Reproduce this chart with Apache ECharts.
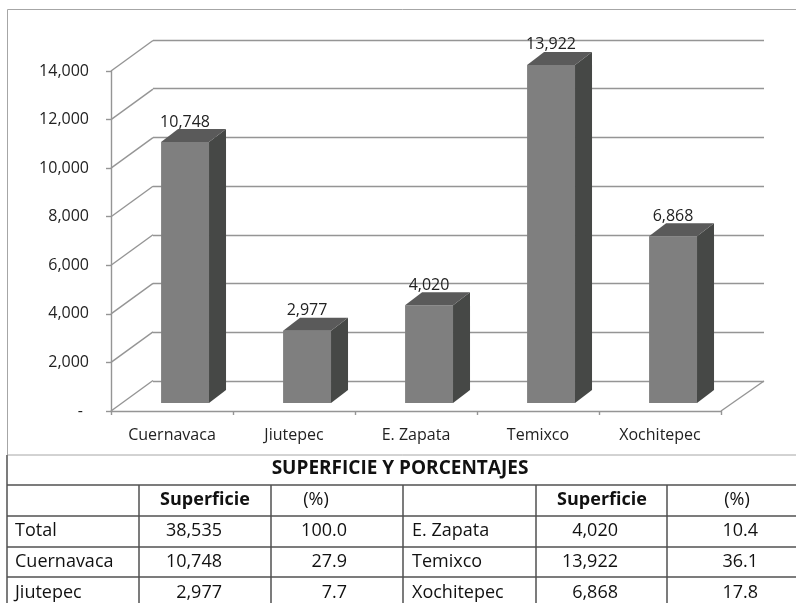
<!DOCTYPE html>
<html><head><meta charset="utf-8">
<script src="https://cdn.jsdelivr.net/npm/echarts@6/dist/echarts.min.js"></script>
<style>html,body{margin:0;padding:0;background:#fff}#c{width:796px;height:603px}</style>
</head><body><div id="c"></div>
<script>
// ---- data ----
const categories = ['Cuernavaca', 'Jiutepec', 'E. Zapata', 'Temixco', 'Xochitepec'];
const superficie = [10748, 2977, 4020, 13922, 6868];
const yTicks = [0, 2000, 4000, 6000, 8000, 10000, 12000, 14000];
const tableTitle = 'SUPERFICIE Y PORCENTAJES';
const tableHeaders = ['Superficie', '(%)'];
const tableLeftNames = ['Total', 'Cuernavaca', 'Jiutepec'];
const tableLeftSup = [38535, 10748, 2977];
const tableLeftPct = ['100.0', '27.9', '7.7'];
const tableRightNames = ['E. Zapata', 'Temixco', 'Xochitepec'];
const tableRightSup = [4020, 13922, 6868];
const tableRightPct = ['10.4', '36.1', '17.8'];

const fmt = n => n.toLocaleString('en-US');
const FONT = '"Open Sans", "Noto Sans", sans-serif';
const GRID = '#959595';
const TXT = '#222222';

const chart = echarts.init(document.getElementById('c'), null, {renderer: 'canvas'});

// ---- table graphics ----
const colsX = [7, 139, 271, 403, 536, 667];
const rowMid = [469, 500, 531, 562, 593];
const tg = [];
const L = (x1, y1, x2, y2) => tg.push({type: 'line', shape: {x1, y1, x2, y2}, style: {stroke: '#505050', lineWidth: 1.5}, z: 10});
L(7, 455, 7, 603);
[485, 516, 547, 577].forEach(y => L(7, y, 796, y));
colsX.slice(1).forEach(x => L(x, 485, x, 603));
const T = (text, x, y, align, bold, size) => tg.push({type: 'text', x, y, z: 11, style: {text, fontFamily: FONT, fontSize: size || 18, fontWeight: bold ? 'bold' : 'normal', fill: '#111111', align, verticalAlign: 'middle'}});
T(tableTitle, 400, rowMid[0], 'center', true, 19);
T(tableHeaders[0], 205, rowMid[1], 'center', true);
T(tableHeaders[1], 316, rowMid[1], 'center', false);
T(tableHeaders[0], 602, rowMid[1], 'center', true);
T(tableHeaders[1], 737, rowMid[1], 'center', false);
for (let i = 0; i < 3; i++) {
  T(tableLeftNames[i], 15, rowMid[i + 2], 'left');
  T(fmt(tableLeftSup[i]), 222, rowMid[i + 2], 'right');
  T(tableLeftPct[i], 347, rowMid[i + 2], 'right');
  T(tableRightNames[i], 412, rowMid[i + 2], 'left');
  T(fmt(tableRightSup[i]), 618, rowMid[i + 2], 'right');
  T(tableRightPct[i], 758, rowMid[i + 2], 'right');
}
tg.push({type: 'rect', shape: {x: 7.5, y: 9.5, width: 800, height: 445.5}, style: {fill: 'none', stroke: '#a6a6a6', lineWidth: 1}, z: 0});

const option = {
  animation: false,
  backgroundColor: '#fff',
  grid: [
    {left: 111, top: 71, width: 610, height: 340},
    {left: 153, top: 40, width: 611, height: 341}
  ],
  xAxis: [
    {type: 'category', gridIndex: 0, data: categories, boundaryGap: true,
     axisLine: {lineStyle: {color: GRID, width: 1.4}},
     axisTick: {show: true, length: 4, alignWithLabel: false, lineStyle: {color: GRID, width: 1.4}},
     axisLabel: {margin: 16, color: TXT, fontSize: 16, fontFamily: FONT},
     splitLine: {show: false}},
    {type: 'category', gridIndex: 1, data: categories, show: false}
  ],
  yAxis: [
    {type: 'value', gridIndex: 0, min: 0, max: 14000, interval: 2000,
     axisLine: {show: true, lineStyle: {color: GRID, width: 1.4}},
     axisTick: {show: true, length: 5, lineStyle: {color: GRID, width: 1.4}},
     axisLabel: {margin: 22, color: TXT, fontSize: 16, fontFamily: FONT,
       formatter: v => v === 0 ? '{d|-}' : fmt(v),
       rich: {d: {fontSize: 16, fontFamily: FONT, color: TXT, padding: [0, 6, 0, 0]}}},
     splitLine: {show: false}},
    {type: 'value', gridIndex: 1, min: 0, max: 14000, interval: 2000,
     axisLine: {show: false}, axisTick: {show: false}, axisLabel: {show: false},
     splitLine: {show: true, lineStyle: {color: GRID, width: 1.4}}}
  ],
  series: [
    { // left wall diagonals
      type: 'custom', xAxisIndex: 0, yAxisIndex: 0, silent: true, z: 1,
      data: yTicks.map(v => [0, v]),
      renderItem(params, api) {
        const cs = params.coordSys;
        const y = api.coord([0, api.value(1)])[1];
        return {type: 'line', shape: {x1: cs.x, y1: y, x2: cs.x + 42, y2: y - 30.5}, style: {stroke: GRID, lineWidth: 1.4}};
      }
    },
    { // floor right edge
      type: 'custom', xAxisIndex: 0, yAxisIndex: 0, silent: true, z: 1,
      data: [[0, 0]],
      renderItem(params, api) {
        const cs = params.coordSys;
        const y = api.coord([0, 0])[1];
        return {type: 'line', shape: {x1: cs.x + cs.width, y1: y, x2: cs.x + cs.width + 43, y2: y - 30}, style: {stroke: GRID, lineWidth: 1.4}};
      }
    },
    { // 3D bars
      type: 'custom', xAxisIndex: 0, yAxisIndex: 0, z: 5,
      data: superficie.map((v, i) => [i, v]),
      renderItem(params, api) {
        const i = api.value(0), v = api.value(1);
        const base = api.coord([i, 0]);
        const top = api.coord([i, v]);
        const band = api.size([1, 0])[0];
        const w = band * 0.393, sx = band * 0.107, sy = -8;
        const dx = 17, dy = -13;
        const x0 = base[0] + sx - w / 2, x1 = x0 + w;
        const yb = base[1] + sy, yt = top[1] + sy;
        return {type: 'group', children: [
          {type: 'rect', shape: {x: x0, y: yt, width: w, height: yb - yt}, style: {fill: '#7f7f7f'}},
          {type: 'polygon', shape: {points: [[x1, yt], [x1 + dx, yt + dy], [x1 + dx, yb + dy], [x1, yb]]}, style: {fill: '#464846'}},
          {type: 'polygon', shape: {points: [[x0, yt], [x0 + dx, yt + dy], [x1 + dx, yt + dy], [x1, yt]]}, style: {fill: '#5a5a5a'}},
          {type: 'text', x: x0 + w / 2, y: yt - 20, style: {text: fmt(v), fontFamily: FONT, fontSize: 16, fill: TXT, align: 'center', verticalAlign: 'middle'}}
        ]};
      }
    }
  ],
  graphic: tg
};
chart.setOption(option);
</script></body></html>
